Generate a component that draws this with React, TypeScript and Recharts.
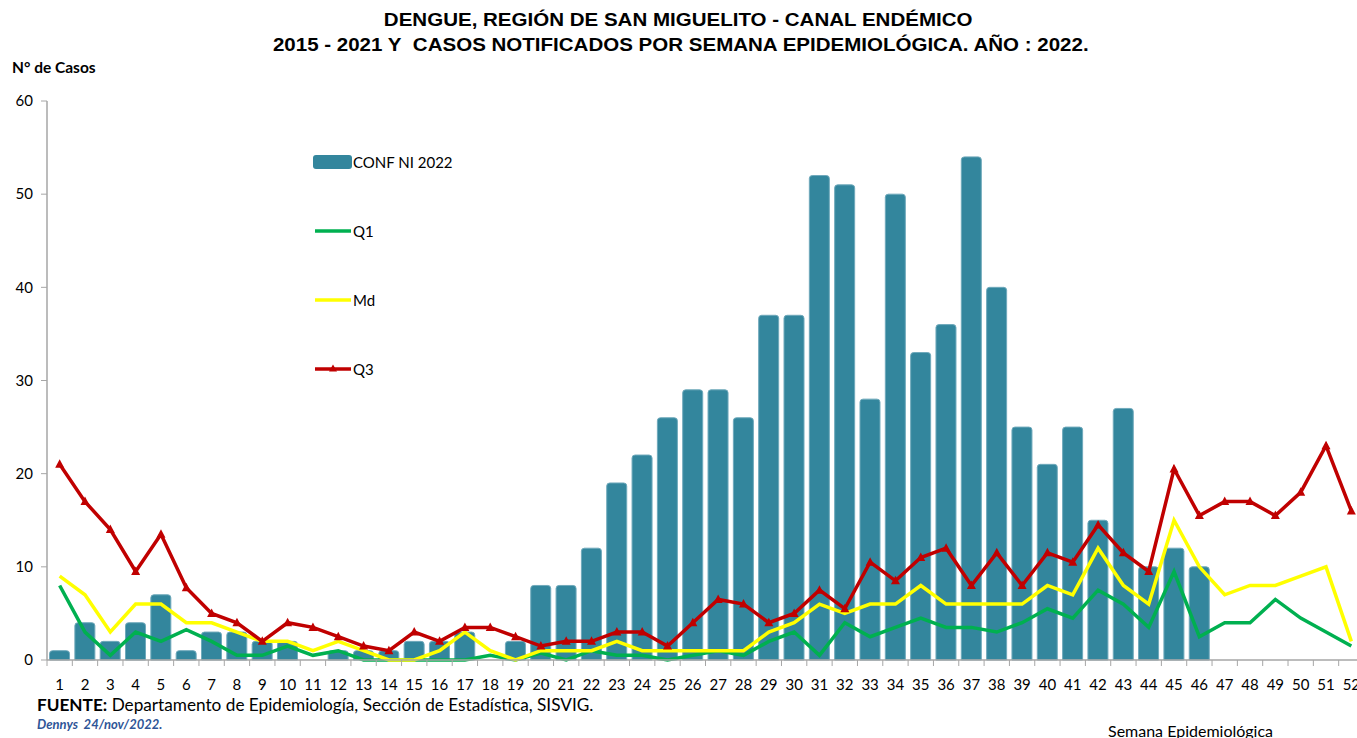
import { ComposedChart, Bar, Line, XAxis, YAxis, Legend } from 'recharts';

const weeks = Array.from({ length: 52 }, (_, i) => String(i + 1));

// casos confirmados 2022 (semanas 1-46)
const conf2022 = [
  1, 4, 2, 4, 7, 1, 3, 3, 2, 2,
  0, 1, 1, 1, 2, 2, 3, 0, 2, 8,
  8, 12, 19, 22, 26, 29, 29, 26, 37, 37,
  52, 51, 28, 50, 33, 36, 54, 40, 25, 21,
  25, 15, 27, 10, 12, 10,
];

const q1 = [
  8, 3, 0.5, 3, 2, 3.25, 2, 0.5, 0.5, 1.5,
  0.5, 1, 0, 0, 0, 0, 0, 0.5, 0, 0.75,
  0, 1, 0.5, 0.5, 0, 0.5, 1, 0.5, 2, 3,
  0.5, 4, 2.5, 3.5, 4.5, 3.5, 3.5, 3, 4, 5.5,
  4.5, 7.5, 6, 3.5, 9.5, 2.5, 4, 4, 6.5, 4.5,
  3, 1.5,
];

const md = [
  9, 7, 3, 6, 6, 4, 4, 3, 2, 2,
  1, 2, 1, 0, 0, 1, 3, 1, 0, 1,
  1, 1, 2, 1, 1, 1, 1, 1, 3, 4,
  6, 5, 6, 6, 8, 6, 6, 6, 6, 8,
  7, 12, 8, 6, 15, 10, 7, 8, 8, 9,
  10, 2,
];

const q3 = [
  21, 17, 14, 9.5, 13.5, 7.75, 5, 4, 2, 4,
  3.5, 2.5, 1.5, 1, 3, 2, 3.5, 3.5, 2.5, 1.5,
  2, 2, 3, 3, 1.5, 4, 6.5, 6, 4, 5,
  7.5, 5.5, 10.5, 8.5, 11, 12, 8, 11.5, 8, 11.5,
  10.5, 14.5, 11.5, 9.5, 20.5, 15.5, 17, 17, 15.5, 18,
  23, 16,
];

const yTicks = [0, 10, 20, 30, 40, 50, 60];

const data = weeks.map((w, i) => ({
  semana: w,
  conf: i < conf2022.length ? conf2022[i] : null,
  q1: q1[i],
  md: md[i],
  q3: q3[i],
}));

const BAR = '#33869D';
const GREEN = '#00B050';
const YELLOW = '#FFFF00';
const RED = '#C00000';
const AXIS = '#A6A6A6';
const FONT = 'Lato, "Open Sans", sans-serif';

const WeekTick = (props: any) => {
  const { x, y, payload } = props;
  const half = payload.offset || 12.66;
  return (
    <g>
      <line x1={x - half} y1={y - 8} x2={x - half} y2={y - 2} stroke={AXIS} strokeWidth={1} />
      <text x={x} y={y + 22} textAnchor="middle" fontSize={15} fill="#000" fontFamily={FONT}>
        {payload.value}
      </text>
    </g>
  );
};

const Triangle = (props: any) => {
  const { cx, cy } = props;
  if (cx == null || cy == null) return null;
  return <path d={`M${cx},${cy - 5} L${cx + 4.5},${cy + 3.5} L${cx - 4.5},${cy + 3.5} Z`} fill={RED} />;
};

const legendItems = [
  { label: 'CONF NI 2022', kind: 'bar', color: BAR, top: 0 },
  { label: 'Q1', kind: 'line', color: GREEN, top: 69 },
  { label: 'Md', kind: 'line', color: YELLOW, top: 138 },
  { label: 'Q3', kind: 'tri', color: RED, top: 207 },
];

const renderLegend = () => (
  <div style={{ position: 'relative', width: 160, height: 230 }}>
    {legendItems.map((it) => (
      <div key={it.label} style={{ position: 'absolute', left: 0, top: it.top, height: 16, display: 'flex', alignItems: 'center' }}>
        <svg width={40} height={16}>
          {it.kind === 'bar' ? (
            <rect x={0} y={1} width={39} height={14} rx={3} fill={it.color} />
          ) : (
            <line x1={2} y1={8} x2={38} y2={8} stroke={it.color} strokeWidth={3.5} />
          )}
          {it.kind === 'tri' && <path d="M20,3.5 L24,10.5 L16,10.5 Z" fill={RED} />}
        </svg>
        <span style={{ fontFamily: FONT, fontSize: 15, color: '#000' }}>{it.label}</span>
      </div>
    ))}
  </div>
);

const titleLine = { display: 'inline-block', transform: 'scaleX(1.14)', transformOrigin: 'center' } as const;

const App = () => {
  return (
    <div style={{ position: 'absolute', left: 0, top: 0, width: 1357, height: 738, overflow: 'hidden', background: '#fff' }}>
      <div style={{ position: 'absolute', left: 0, top: 8, width: 1357, textAlign: 'center', fontFamily: '"Liberation Sans", Arial, sans-serif', fontWeight: 'bold', fontSize: 18, lineHeight: '25px', color: '#000' }}>
        <div><span style={titleLine}>DENGUE, REGIÓN DE SAN MIGUELITO - CANAL ENDÉMICO</span></div>
        <div style={{ paddingLeft: 4 }}><span style={titleLine}>2015 - 2021 Y&nbsp; CASOS NOTIFICADOS POR SEMANA EPIDEMIOLÓGICA. AÑO : 2022.</span></div>
      </div>
      <div style={{ position: 'absolute', left: 12, top: 58, fontFamily: FONT, fontWeight: 'bold', fontSize: 15.5, color: '#000' }}>
        N° de Casos
      </div>

      <div style={{ position: 'absolute', left: 0, top: 0 }}>
        <ComposedChart width={1370} height={700} data={data} margin={{ top: 101, right: 6, left: 0, bottom: 0 }}>
          <XAxis
            dataKey="semana"
            height={40}
            interval={0}
            axisLine={{ stroke: AXIS, strokeWidth: 1.5 }}
            tickLine={false}
            tick={<WeekTick />}
          />
          <YAxis
            width={47}
            domain={[0, 60]}
            ticks={yTicks}
            interval={0}
            axisLine={{ stroke: AXIS, strokeWidth: 1.5 }}
            tickLine={{ stroke: AXIS }}
            tickSize={6}
            tickMargin={8}
            tick={{ fontSize: 15, fill: '#000', fontFamily: FONT }}
          />
          <Legend
            content={renderLegend}
            layout="vertical"
            align="center"
            verticalAlign="middle"
            wrapperStyle={{ position: 'absolute', left: 313, top: 154, width: 160, height: 230 }}
          />
          <Bar dataKey="conf" name="CONF NI 2022" fill={BAR} stroke="#6FA9BB" strokeWidth={1} barCategoryGap="32%" radius={[3, 3, 0, 0]} isAnimationActive={false} />
          <Line dataKey="q1" name="Q1" type="linear" stroke={GREEN} strokeWidth={3.5} dot={false} activeDot={false} isAnimationActive={false} />
          <Line dataKey="md" name="Md" type="linear" stroke={YELLOW} strokeWidth={3.5} dot={false} activeDot={false} isAnimationActive={false} />
          <Line dataKey="q3" name="Q3" type="linear" stroke={RED} strokeWidth={3.5} dot={<Triangle />} activeDot={false} isAnimationActive={false} />
        </ComposedChart>
      </div>

      <div style={{ position: 'absolute', left: 37, top: 694, fontFamily: FONT, fontSize: 17.2, color: '#000' }}>
        <b>FUENTE:</b> Departamento de Epidemiología, Sección de Estadística, SISVIG.
      </div>
      <div style={{ position: 'absolute', left: 37, top: 716, fontFamily: FONT, fontSize: 13, fontWeight: 'bold', fontStyle: 'italic', color: '#2F5597' }}>
        Dennys&nbsp; 24/nov/2022.
      </div>
      <div style={{ position: 'absolute', left: 1108, top: 721, fontFamily: FONT, fontSize: 16, color: '#000' }}>
        Semana Epidemiológica
      </div>
    </div>
  );
};

export default App;
